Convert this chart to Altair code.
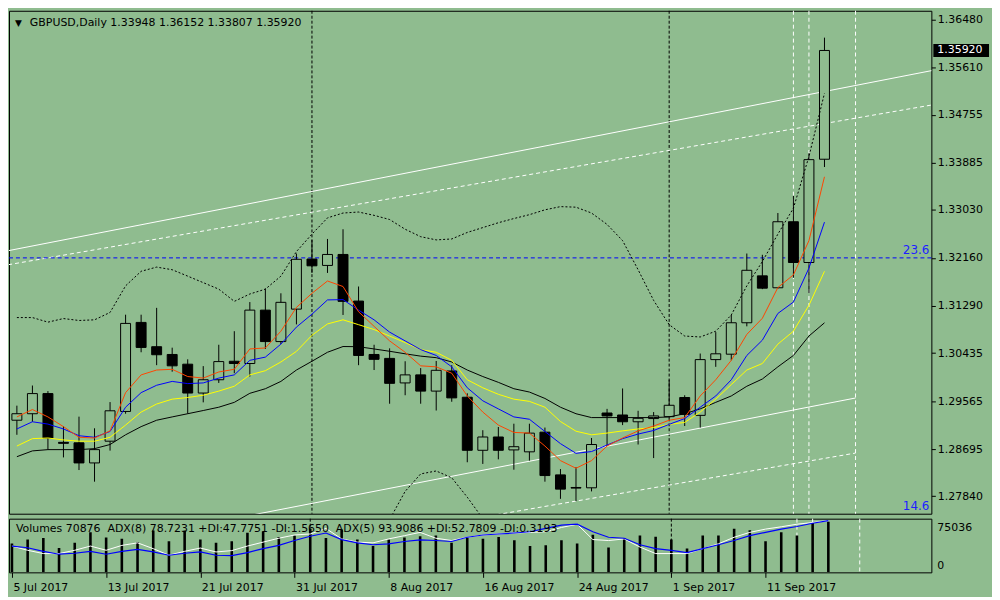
import altair as alt
import pandas as pd

BG = "#8FBC8F"
FONT = "DejaVu Sans"
W, H1, H2 = 928, 506, 54

symbol = "GBPUSD,Daily"

opens = [1.29217, 1.29335, 1.29700, 1.28816, 1.28807, 1.28443, 1.28837, 1.29376, 1.30990, 1.30550,
         1.30409, 1.30233, 1.29710, 1.29951, 1.30286, 1.30245, 1.31213, 1.30643, 1.31231, 1.32139,
         1.32023, 1.32222, 1.31377, 1.30409, 1.30338, 1.29893, 1.30039, 1.29745, 1.30110, 1.29634,
         1.28672, 1.28913, 1.28679, 1.28644, 1.29001, 1.28226, 1.27998, 1.27992, 1.29348, 1.29312,
         1.29189, 1.29247, 1.29282, 1.29629, 1.29305, 1.30316, 1.30414, 1.30984, 1.31834, 1.31618,
         1.32815, 1.32076, 1.33948]
highs = [1.29481, 1.29846, 1.29745, 1.29106, 1.29282, 1.29071, 1.29546, 1.31130, 1.31130, 1.31254,
         1.30532, 1.30321, 1.30198, 1.30585, 1.30831, 1.31359, 1.31606, 1.31518, 1.32239, 1.32486,
         1.32503, 1.32679, 1.31641, 1.30585, 1.30520, 1.30286, 1.30162, 1.30291, 1.30215, 1.29705,
         1.29036, 1.29094, 1.29154, 1.29154, 1.29084, 1.28332, 1.28367, 1.28895, 1.29423, 1.29793,
         1.29388, 1.29365, 1.29951, 1.29670, 1.30426, 1.30814, 1.31125, 1.32239, 1.32216, 1.32973,
         1.33283, 1.34057, 1.36152]
lows = [1.28953, 1.29189, 1.28684, 1.28543, 1.28314, 1.28103, 1.28666, 1.29335, 1.30449, 1.30215,
        1.30097, 1.29335, 1.29541, 1.29893, 1.30069, 1.30009, 1.30509, 1.30597, 1.30954, 1.31887,
        1.31887, 1.31125, 1.30215, 1.30127, 1.29516, 1.29670, 1.29516, 1.29393, 1.29552, 1.28455,
        1.28425, 1.28508, 1.28320, 1.28485, 1.28103, 1.27792, 1.27751, 1.27927, 1.28749, 1.29129,
        1.28777, 1.28531, 1.29247, 1.29112, 1.29084, 1.30185, 1.30303, 1.30919, 1.31593, 1.31606,
        1.31799, 1.31523, 1.33807]
closes = [1.29335, 1.29700, 1.28895, 1.28798, 1.28443, 1.28684, 1.29388, 1.30972, 1.30537, 1.30404,
          1.30203, 1.29710, 1.29951, 1.30280, 1.30245, 1.31213, 1.30643, 1.31354, 1.32134, 1.32016,
          1.32222, 1.31372, 1.30391, 1.30321, 1.29886, 1.30039, 1.29745, 1.30122, 1.29622, 1.28672,
          1.28913, 1.28672, 1.28737, 1.28983, 1.28214, 1.27968, 1.27987, 1.28777, 1.29295, 1.29189,
          1.29252, 1.29295, 1.29488, 1.29323, 1.30316, 1.30421, 1.30984, 1.31935, 1.31611, 1.32815,
          1.32076, 1.33941, 1.35920]

ma_red = [1.29277, 1.29411, 1.29277, 1.29101, 1.28908, 1.28895, 1.29024, 1.29717, 1.30039, 1.30127,
          1.30140, 1.30009, 1.29981, 1.30092, 1.30140, 1.30509, 1.30527, 1.30831, 1.31262, 1.31518,
          1.31741, 1.31641, 1.31183, 1.30919, 1.30655, 1.30449, 1.30203, 1.30185, 1.30069, 1.29657,
          1.29365, 1.29129, 1.28996, 1.28984, 1.28749, 1.28485, 1.28346, 1.28485, 1.28749, 1.28895,
          1.29024, 1.29112, 1.29217, 1.29265, 1.29657, 1.29951, 1.30303, 1.30773, 1.31065, 1.31623,
          1.31852, 1.32473, 1.33630]
ma_blue = [1.29059, 1.29189, 1.29147, 1.29059, 1.28936, 1.28908, 1.29013, 1.29453, 1.29717, 1.29851,
           1.29921, 1.29881, 1.29893, 1.29981, 1.30039, 1.30303, 1.30361, 1.30597, 1.30905, 1.31139,
           1.31398, 1.31403, 1.31213, 1.31037, 1.30814, 1.30655, 1.30497, 1.30391, 1.30185, 1.29805,
           1.29569, 1.29423, 1.29277, 1.29235, 1.29013, 1.28793, 1.28617, 1.28649, 1.28767, 1.28883,
           1.28966, 1.29031, 1.29142, 1.29247, 1.29453, 1.29657, 1.29951, 1.30391, 1.30668, 1.31153,
           1.31359, 1.31975, 1.32808]
ma_yellow = [1.28749, 1.28883, 1.28895, 1.28860, 1.28837, 1.28837, 1.28908, 1.29129, 1.29365, 1.29511,
             1.29599, 1.29629, 1.29670, 1.29745, 1.29833, 1.30039, 1.30115, 1.30273, 1.30465, 1.30757,
             1.30963, 1.31037, 1.30949, 1.30861, 1.30743, 1.30625, 1.30497, 1.30449, 1.30303, 1.29951,
             1.29805, 1.29687, 1.29599, 1.29559, 1.29453, 1.29194, 1.29018, 1.28953, 1.28984, 1.29024,
             1.29059, 1.29084, 1.29142, 1.29177, 1.29365, 1.29599, 1.29863, 1.30127, 1.30245, 1.30597,
             1.30831, 1.31301, 1.31917]
ma_black = [1.28556, 1.28661, 1.28684, 1.28684, 1.28684, 1.28702, 1.28777, 1.28953, 1.29101, 1.29217,
            1.29277, 1.29335, 1.29393, 1.29453, 1.29541, 1.29705, 1.29788, 1.29921, 1.30127, 1.30286,
            1.30449, 1.30553, 1.30550, 1.30509, 1.30467, 1.30421, 1.30379, 1.30351, 1.30273, 1.30127,
            1.30009, 1.29904, 1.29788, 1.29728, 1.29612, 1.29453, 1.29335, 1.29265, 1.29265, 1.29265,
            1.29265, 1.29265, 1.29277, 1.29335, 1.29423, 1.29541, 1.29657, 1.29833, 1.29964, 1.30185,
            1.30391, 1.30743, 1.30983]
bb_upper = [1.31078, 1.31078, 1.30995, 1.31060, 1.31025, 1.31037, 1.31171, 1.31653, 1.31917, 1.31993,
            1.31945, 1.31829, 1.31711, 1.31593, 1.31372, 1.31505, 1.31593, 1.31829, 1.32274, 1.32591,
            1.32885, 1.32973, 1.32991, 1.32931, 1.32855, 1.32679, 1.32544, 1.32486, 1.32503, 1.32621,
            1.32709, 1.32797, 1.32873, 1.32943, 1.33031, 1.33089, 1.33079, 1.32973, 1.32767, 1.32473,
            1.31945, 1.31389, 1.30949, 1.30743, 1.30726, 1.30831, 1.31125, 1.31653, 1.32093, 1.32591,
            1.33061, 1.33999, 1.35143]
bb_lower_bars = [23, 24, 25, 26, 27, 28, 29, 30, 31]
bb_lower = [1.26783, 1.27417, 1.27927, 1.28244, 1.28297, 1.28174, 1.27822, 1.27434, 1.27047]

volumes = [40180, 46100, 47890, 34120, 41550, 56140, 48850, 47060, 42380, 58480,
           43340, 58480, 46100, 41550, 43340, 55310, 57100, 49260, 51600, 60820,
           47890, 59860, 46100, 36880, 46100, 48850, 50640, 51600, 41550, 49260,
           47060, 49260, 44720, 36880, 37840, 44720, 40180, 52560, 34680, 47890,
           51600, 49810, 46100, 33300, 51600, 51600, 60820, 58890, 43340, 56140,
           51600, 69080, 70876]
adx8_line = [49.0, 41.1, 35.0, 35.0, 41.1, 49.0, 41.1, 50.2, 55.0, 44.1,
             31.9, 39.2, 45.3, 38.0, 40.5, 49.0, 56.3, 63.6, 69.6, 71.5,
             81.8, 62.3, 56.3, 55.0, 62.3, 68.4, 74.5, 63.6, 59.3, 65.4,
             69.6, 71.5, 73.3, 74.5, 75.7, 83.6, 89.7, 61.1, 59.3, 62.3,
             47.1, 35.0, 35.0, 35.0, 44.1, 53.2, 65.4, 74.5, 80.6, 84.9,
             89.7, 92.8, 96.4]
adx5_line = [49.0, 45.9, 39.2, 33.8, 35.6, 39.2, 33.8, 39.2, 42.9, 38.0,
             31.9, 35.6, 38.0, 31.9, 31.3, 36.8, 44.1, 50.2, 59.3, 67.2,
             73.3, 61.1, 55.0, 51.4, 53.2, 57.5, 60.5, 59.3, 57.5, 65.4,
             69.6, 71.5, 73.3, 75.7, 81.8, 87.9, 89.7, 75.7, 65.4, 63.6,
             51.4, 44.1, 41.1, 36.8, 44.1, 51.4, 59.3, 68.4, 74.5, 80.6,
             85.5, 91.5, 96.4]

tick_bars = [0, 6, 12, 18, 24, 30, 36, 42, 48]
tick_labels = ["5 Jul 2017", "13 Jul 2017", "21 Jul 2017", "31 Jul 2017", "8 Aug 2017",
               "16 Aug 2017", "24 Aug 2017", "1 Sep 2017", "11 Sep 2017"]
price_ticks = [1.36480, 1.35610, 1.34755, 1.33885, 1.33030, 1.32160, 1.31290,
               1.30435, 1.29565, 1.28695, 1.27840]
vol_max_label = 75036
month_sep_bars = [19, 42]
vline_bars = [50, 51, 54]
fib_prices = [1.32160, 1.27520]
fib_labels = ["23.6", "14.6"]
chan_names = ["us", "us", "ud", "ud", "ls", "ls", "ld", "ld"]
chan_bars = [-1, 59, -1, 59, 12, 54, 30, 54]
chan_prices = [1.32266, 1.35560, 1.32014, 1.34936, 1.27327, 1.29620, 1.27461, 1.28622]
chan_dashed = [False, False, True, True, False, False, True, True]
vol_header = ("Volumes 70876\u00a0 ADX(8) 78.7231 +DI:47.7751 -DI:1.5650\u00a0 "
              "ADX(5) 93.9086 +DI:52.7809 -DI:0.3193")

# ---------------------------------------------------------------- frames
n = len(opens)
bars = list(range(n))
candles = pd.DataFrame({"k": bars, "open": opens, "high": highs, "low": lows, "close": closes})
candles["top"] = candles[["open", "close"]].max(axis=1)
candles["bot"] = candles[["open", "close"]].min(axis=1)
candles["bull"] = candles["close"] >= candles["open"]

ma = pd.DataFrame({"k": bars, "red": ma_red, "blue": ma_blue, "yellow": ma_yellow,
                   "black": ma_black, "up": bb_upper})
lower = pd.DataFrame({"k": bb_lower_bars, "lo": bb_lower})
chan = pd.DataFrame({"k": chan_bars, "p": chan_prices, "name": chan_names, "dashed": chan_dashed})
fib = pd.DataFrame({"p": fib_prices, "label": fib_labels})
seps = pd.DataFrame({"k": month_sep_bars})
vls = pd.DataFrame({"k": vline_bars})

ydom = [1.275224, 1.366392]
xscale = alt.Scale(domain=[-0.1875, 58.5625], nice=False, zero=False)
yscale = alt.Scale(domain=ydom, nice=False, zero=False)
yaxis = alt.Axis(orient="right", values=price_ticks, format=".5f", tickSize=4,
                 tickColor="black", domain=False, grid=False, labelFont=FONT,
                 labelFontSize=11, labelColor="black", labelPadding=2, title=None,
                 labelOverlap=False, labelFlush=False)


def X():
    return alt.X("k:Q", scale=xscale, axis=None)


def Y(f):
    return alt.Y(f"{f}:Q", scale=yscale, axis=yaxis)


last = candles.iloc[-1]
header = f"{symbol}  {last.open:.5f} {last.high:.5f} {last.low:.5f} {last.close:.5f}"
half = 6.5 * (ydom[1] - ydom[0]) / H1
tag = pd.DataFrame({"p": [last.close], "lo": [last.close - half], "hi": [last.close + half],
                    "label": [f"{last.close:.5f}"]})
hdr = pd.DataFrame({"t": [header], "tri": ["\u25bc"]})

sep_layer = alt.Chart(seps).mark_rule(color="black", strokeDash=[3, 2], strokeWidth=1).encode(x=X())
vl_layer = alt.Chart(vls).mark_rule(color="white", strokeDash=[4, 3], strokeWidth=1).encode(x=X())
chan_solid = alt.Chart(chan).transform_filter("!datum.dashed").mark_line(
    color="white", strokeWidth=1, clip=True).encode(x=X(), y=Y("p"), detail="name:N")
chan_dash = alt.Chart(chan).transform_filter("datum.dashed").mark_line(
    color="white", strokeWidth=1, strokeDash=[4, 3], clip=True).encode(x=X(), y=Y("p"), detail="name:N")
fib_rule = alt.Chart(fib).transform_filter("datum.label == '23.6'").mark_rule(
    color="#0000FF", strokeDash=[4, 3], strokeWidth=1).encode(y=Y("p"))
fib_text = alt.Chart(fib).mark_text(align="right", baseline="bottom", dx=-2, dy=-1,
                                    color="#1E1EFF", font=FONT, fontSize=12).encode(
    x=alt.value(W), y=Y("p"), text="label:N")
wicks = alt.Chart(candles).mark_rule(color="black", strokeWidth=1, clip=True).encode(
    x=X(), y=Y("low"), y2=alt.Y2("high:Q"))
bodies = alt.Chart(candles).mark_bar(size=10, stroke="black", strokeWidth=1, clip=True).encode(
    x=X(), y=Y("bot"), y2=alt.Y2("top:Q"),
    fill=alt.condition("datum.bull", alt.value(BG), alt.value("black")))
band_up = alt.Chart(ma).mark_line(color="black", strokeWidth=1, strokeDash=[2, 2], clip=True).encode(
    x=X(), y=Y("up"))
band_lo = alt.Chart(lower).mark_line(color="black", strokeWidth=1, strokeDash=[2, 2], clip=True).encode(
    x=X(), y=Y("lo"))
line_black = alt.Chart(ma).mark_line(color="black", strokeWidth=1, clip=True).encode(x=X(), y=Y("black"))
line_yellow = alt.Chart(ma).mark_line(color="#FFFF00", strokeWidth=1, clip=True).encode(x=X(), y=Y("yellow"))
line_blue = alt.Chart(ma).mark_line(color="#0000FF", strokeWidth=1, clip=True).encode(x=X(), y=Y("blue"))
line_red = alt.Chart(ma).mark_line(color="#FF4500", strokeWidth=1, clip=True).encode(x=X(), y=Y("red"))
tag_rect = alt.Chart(tag).mark_rect(color="black").encode(
    x=alt.value(W + 2), x2=alt.value(W + 58), y=Y("lo"), y2=alt.Y2("hi:Q"))
tag_text = alt.Chart(tag).mark_text(align="left", baseline="middle", color="white",
                                    font=FONT, fontSize=11).encode(
    x=alt.value(W + 6), y=Y("p"), text="label:N")
hdr_tri = alt.Chart(hdr).mark_text(align="left", baseline="middle", color="black",
                                   font=FONT, fontSize=9).encode(
    x=alt.value(6), y=alt.value(12), text="tri:N")
hdr_text = alt.Chart(hdr).mark_text(align="left", baseline="middle", color="black",
                                    font=FONT, fontSize=11).encode(
    x=alt.value(21), y=alt.value(12), text="t:N")

main = alt.layer(sep_layer, vl_layer, chan_solid, chan_dash, fib_rule, wicks, bodies,
                 band_up, band_lo, line_black, line_yellow, line_blue, line_red,
                 fib_text, tag_rect, tag_text, hdr_tri, hdr_text).properties(width=W, height=H1)

# ---------------------------------------------------------------- volume panel
vdf = pd.DataFrame({"k": bars, "vol": volumes, "adx8": adx8_line, "adx5": adx5_line})
vscale = alt.Scale(domain=[0, vol_max_label], nice=False, zero=False)
ascale = alt.Scale(domain=[0, 100], nice=False, zero=False)
label_expr = ("[" + ",".join(f"'{s}'" for s in tick_labels) + "][indexof(["
              + ",".join(str(b) for b in tick_bars) + "], datum.value)]")
xaxis = alt.Axis(values=tick_bars, labelExpr=label_expr, labelAlign="left", labelPadding=4,
                 tickSize=5, tickColor="black", domain=False, grid=False, labelFont=FONT,
                 labelFontSize=11, labelColor="black", title=None, labelOverlap=False,
                 labelFlush=False, labelOffset=1)


def VX():
    return alt.X("k:Q", scale=xscale, axis=xaxis)


vlabels = pd.DataFrame({"v": [vol_max_label, 0], "label": [str(vol_max_label), "0"]})
v_sep = alt.Chart(seps).mark_rule(color="black", strokeDash=[3, 2], strokeWidth=1).encode(x=VX())
v_vl = alt.Chart(vls).mark_rule(color="white", strokeDash=[4, 3], strokeWidth=1).encode(x=VX())
v_bars = alt.Chart(vdf).mark_rule(color="black", strokeWidth=2.6, clip=True).encode(
    x=VX(), y=alt.Y("vol:Q", scale=vscale, axis=None), y2=alt.datum(0))
v_white = alt.Chart(vdf).mark_line(color="white", strokeWidth=1, clip=True).encode(
    x=VX(), y=alt.Y("adx8:Q", scale=ascale, axis=None))
v_blue = alt.Chart(vdf).mark_line(color="#0000FF", strokeWidth=1.2, clip=True).encode(
    x=VX(), y=alt.Y("adx5:Q", scale=ascale, axis=None))
v_head = alt.Chart(pd.DataFrame({"t": [vol_header]})).mark_text(
    align="left", baseline="middle", color="black", font=FONT, fontSize=11).encode(
    x=alt.value(7), y=alt.value(10), text="t:N")
v_top = alt.Chart(vlabels).transform_filter(f"datum.v == {vol_max_label}").mark_text(
    align="left", baseline="top", dy=3, color="black", font=FONT, fontSize=11).encode(
    x=alt.value(W + 6), y=alt.Y("v:Q", scale=vscale, axis=None), text="label:N")
v_zero = alt.Chart(vlabels).transform_filter("datum.v == 0").mark_text(
    align="left", baseline="bottom", dy=-1, color="black", font=FONT, fontSize=11).encode(
    x=alt.value(W + 6), y=alt.Y("v:Q", scale=vscale, axis=None), text="label:N")

vol = alt.layer(v_sep, v_vl, v_bars, v_white, v_blue, v_head, v_top, v_zero).resolve_scale(
    y="independent").properties(width=W, height=H2)

chart = alt.vconcat(main, vol, spacing=3).properties(
    background=BG, padding={"left": 0, "top": 0, "right": 2, "bottom": 2}
).configure_view(stroke="black", strokeWidth=1)

chart.save("out.html", embed_options={"renderer": "svg", "actions": False})
